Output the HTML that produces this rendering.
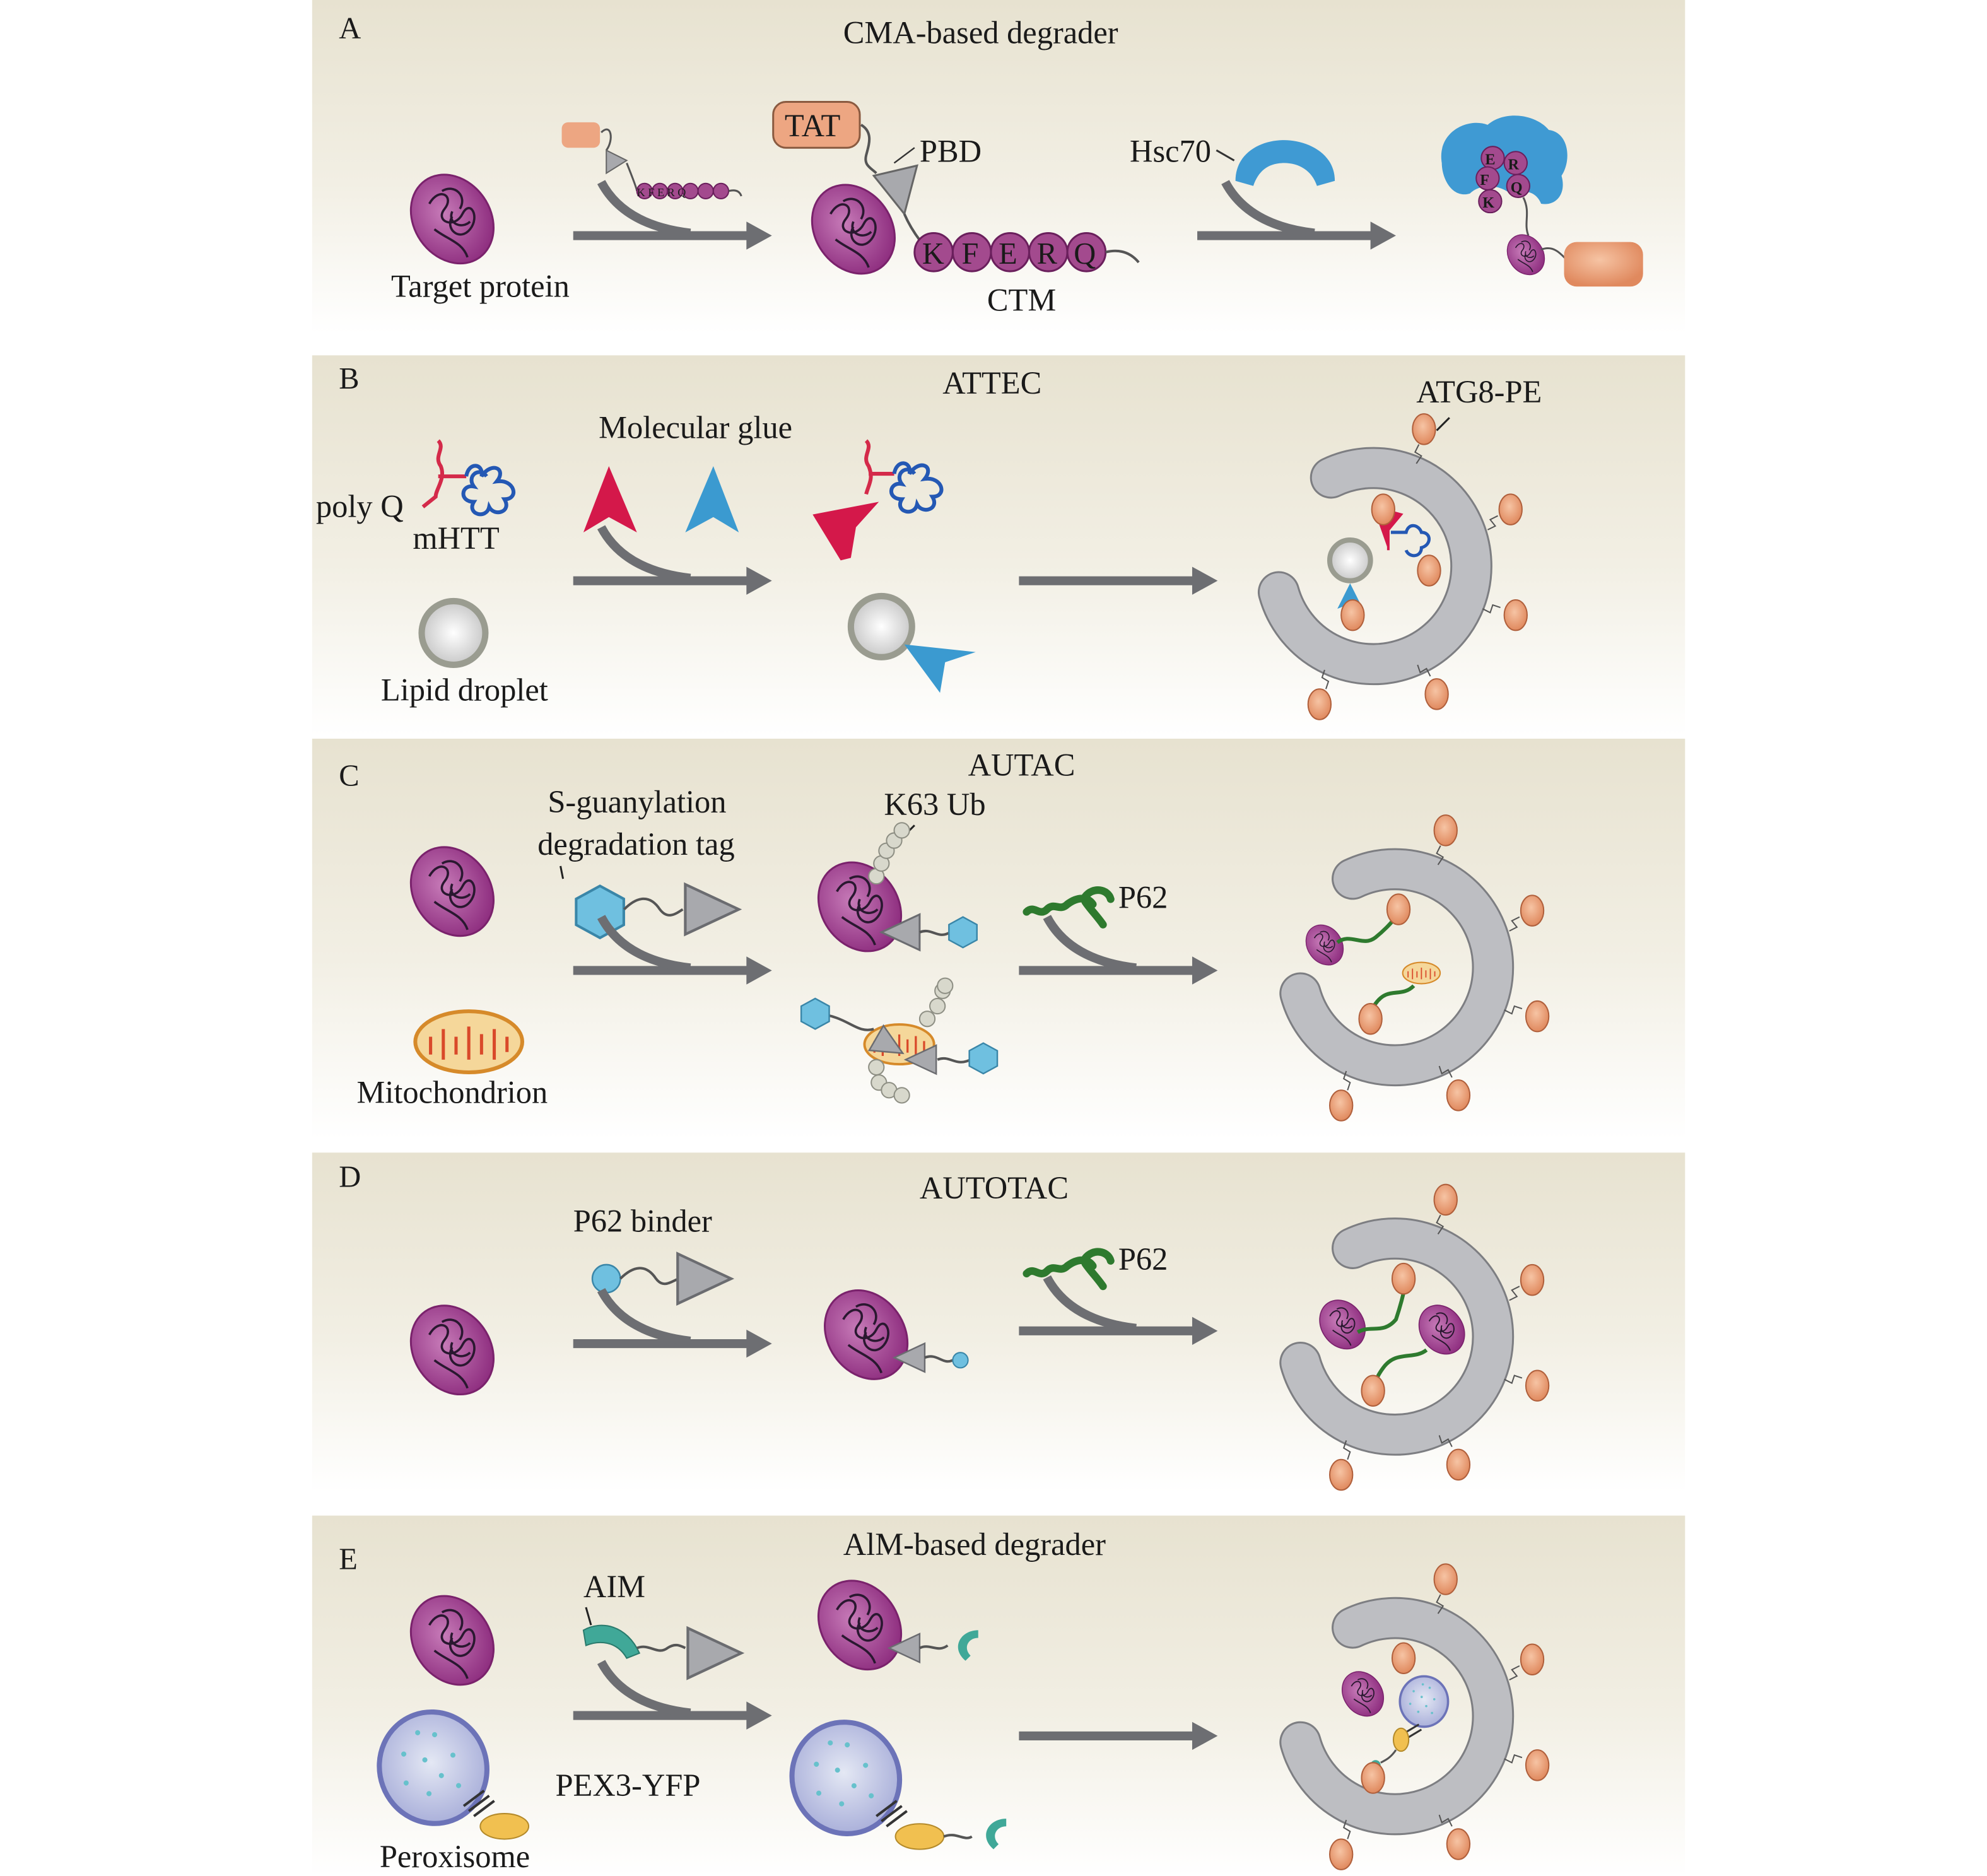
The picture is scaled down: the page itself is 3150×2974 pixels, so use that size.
<!DOCTYPE html>
<html><head><meta charset="utf-8"><style>
html,body{margin:0;padding:0;background:#fff}
svg{display:block}
text{font-family:"Liberation Serif",serif;fill:#1a1a1a}
</style></head><body>
<svg width="3150" height="2974" viewBox="0 0 1560 1473" xmlns="http://www.w3.org/2000/svg">
<defs>
<linearGradient id="bg" x1="0" y1="0" x2="0" y2="1">
<stop offset="0" stop-color="#e7e2d0"/><stop offset="0.55" stop-color="#f2efe4"/><stop offset="1" stop-color="#ffffff"/></linearGradient>
<radialGradient id="pg" cx="0.45" cy="0.4" r="0.6"><stop offset="0" stop-color="#c77bb8"/><stop offset="1" stop-color="#8f2f80"/></radialGradient>
<radialGradient id="og" cx="0.45" cy="0.4" r="0.6"><stop offset="0" stop-color="#f6c4a4"/><stop offset="1" stop-color="#e0895e"/></radialGradient>
<radialGradient id="lg" cx="0.5" cy="0.5" r="0.5"><stop offset="0" stop-color="#ffffff"/><stop offset="1" stop-color="#c8c8c8"/></radialGradient>
<radialGradient id="xg" cx="0.5" cy="0.45" r="0.55"><stop offset="0" stop-color="#e4e8f4"/><stop offset="1" stop-color="#aab0da"/></radialGradient>
<g id="prot">
<ellipse rx="30" ry="37" transform="rotate(-35)" fill="url(#pg)" stroke="#7a226c" stroke-width="1.5"/>
<path d="M-18,-12 c8,-14 20,-6 12,4 c-8,10 8,16 14,4 c6,-12 14,2 6,12 c-8,10 -20,0 -14,-10 M-8,-22 c10,-6 20,4 14,14 M-14,8 c10,8 22,10 26,22 M0,-6 c-4,10 8,14 14,8" fill="none" stroke="#2a1830" stroke-width="1.8"/>
</g>
<g id="arr">
<line x1="0" y1="0" x2="140" y2="0" stroke="#6d6e72" stroke-width="7"/>
<polygon points="136,-11 156,0 136,11" fill="#6d6e72"/>
</g>
<g id="arrc">
<use href="#arr"/>
<path d="M22,-42 Q40,-8 92,-2" fill="none" stroke="#6d6e72" stroke-width="7"/>
</g>
<g id="tri"><polygon points="0,-14 30,0 0,14" fill="#a8a9ad" stroke="#6b6c70" stroke-width="1.5"/></g>
<g id="ob"><ellipse rx="9" ry="12" fill="url(#og)" stroke="#b0603c" stroke-width="1"/></g>
<g id="phag">
<path d="M-33,-70 A77,77 0 1 1 -74,20" fill="none" stroke="#7d7e82" stroke-width="33" stroke-linecap="round"/>
<path d="M-33,-70 A77,77 0 1 1 -74,20" fill="none" stroke="#bdbec2" stroke-width="30" stroke-linecap="round"/>
<use href="#ob" x="40" y="-108"/><use href="#ob" x="108" y="-45"/><use href="#ob" x="112" y="38"/>
<use href="#ob" x="50" y="100"/><use href="#ob" x="-42" y="108"/>
<path d="M36,-96 l-3,6 5,3 -4,6 M98,-40 l-6,3 4,5 -6,3 M100,32 l-6,-2 -2,6 -6,-3 M45,86 l-3,-6 -5,3 -2,-6 M-37,96 l2,-6 -5,-3 2,-6" fill="none" stroke="#555" stroke-width="1"/>
</g>
<g id="mito">
<ellipse rx="42" ry="24" fill="#f5d79a" stroke="#d68a2a" stroke-width="3"/>
<path d="M-30,10 v-14 M-20,14 v-24 M-10,10 v-14 M0,14 v-26 M10,10 v-16 M20,14 v-24 M30,8 v-12" stroke="#d9492a" stroke-width="2.5"/>
</g>
<g id="hex"><polygon points="-11,-6 0,-12 11,-6 11,6 0,12 -11,6" fill="#6fc0e0" stroke="#3a86a8" stroke-width="1.2"/></g>
<g id="p62"><path d="M-36,4 c6,-6 10,4 16,-2 c6,-6 10,2 16,-4 c8,-6 16,-6 20,0 M10,-8 c6,-8 18,-6 20,2 M10,-4 c4,6 10,12 14,18" fill="none" stroke="#2e7a2e" stroke-width="6" stroke-linecap="round"/></g>
<g id="pex">
<ellipse rx="42" ry="44" fill="url(#xg)" stroke="#6c73b8" stroke-width="4"/>
<g fill="#67c1cc"><circle cx="-18" cy="-18" r="2"/><circle cx="-4" cy="-8" r="2"/><circle cx="10" cy="-24" r="2"/><circle cx="-24" cy="4" r="2"/><circle cx="4" cy="8" r="2"/><circle cx="18" cy="-4" r="2"/><circle cx="-10" cy="18" r="2"/><circle cx="14" cy="20" r="2"/><circle cx="-2" cy="-30" r="2"/></g>
</g>
</defs>

<rect x="245" y="0" width="1078" height="262" fill="url(#bg)"/>
<rect x="245" y="279" width="1078" height="299" fill="url(#bg)"/>
<rect x="245" y="580" width="1078" height="315" fill="url(#bg)"/>
<rect x="245" y="905" width="1078" height="267" fill="url(#bg)"/>
<rect x="245" y="1190" width="1078" height="283" fill="url(#bg)"/>

<!-- Panel A -->
<text x="266" y="30" font-size="24">A</text>
<text x="662" y="34" font-size="25">CMA-based degrader</text>
<use href="#prot" x="355" y="172"/>
<text x="307" y="233" font-size="25">Target protein</text>
<rect x="441" y="96" width="30" height="20" rx="5" fill="#eda682"/>
<path d="M472,104 c8,-8 10,6 4,14" fill="none" stroke="#555" stroke-width="1.5"/>
<polygon points="476,118 492,126 476,136" fill="#a8a9ad" stroke="#666"/>
<path d="M492,128 Q500,148 500,150" fill="none" stroke="#555" stroke-width="1.5"/>
<g fill="#a34a8e" stroke="#6a1f5c"><circle cx="506" cy="150" r="6"/><circle cx="518" cy="150" r="6"/><circle cx="530" cy="150" r="6"/><circle cx="542" cy="150" r="6"/><circle cx="554" cy="150" r="6"/><circle cx="566" cy="150" r="6"/></g>
<text x="500" y="154" font-size="9" fill="#222">K F E R Q</text>
<path d="M572,150 q8,-2 10,4" fill="none" stroke="#555" stroke-width="1.5"/>
<use href="#arrc" x="450" y="185"/>
<use href="#prot" x="670" y="180"/>
<rect x="607" y="80" width="68" height="36" rx="10" fill="#eda682" stroke="#8a5a40" stroke-width="1.5"/>
<text x="616" y="107" font-size="25">TAT</text>
<path d="M676,98 c10,6 6,16 4,24 c-2,8 4,10 8,14" fill="none" stroke="#555" stroke-width="2"/>
<polygon points="686,138 720,130 710,168" fill="#a8a9ad" stroke="#666" stroke-width="1.5"/>
<path d="M702,128 l16,-12" stroke="#333" stroke-width="1.2"/>
<text x="722" y="127" font-size="25">PBD</text>
<path d="M710,168 q6,14 18,28" fill="none" stroke="#555" stroke-width="2"/>
<g fill="#a34a8e" stroke="#6a1f5c" stroke-width="1.5"><circle cx="733" cy="198" r="15"/><circle cx="763" cy="198" r="15"/><circle cx="793" cy="198" r="15"/><circle cx="823" cy="198" r="15"/><circle cx="853" cy="198" r="15"/></g>
<text x="724" y="207" font-size="24">K</text><text x="755" y="207" font-size="24">F</text><text x="784" y="207" font-size="24">E</text><text x="814" y="207" font-size="24">R</text><text x="843" y="207" font-size="24">Q</text>
<path d="M868,198 q16,-4 26,8" fill="none" stroke="#555" stroke-width="2"/>
<text x="775" y="244" font-size="25">CTM</text>
<text x="887" y="127" font-size="25">Hsc70</text>
<path d="M955,118 l14,8" stroke="#333" stroke-width="1.5"/>
<path d="M970,142 c0,-22 20,-32 38,-32 c18,0 40,10 40,32 l-14,4 c-4,-12 -14,-18 -26,-18 c-12,0 -20,6 -24,18z" fill="#3f9ad3"/>
<use href="#arrc" x="940" y="185"/>
<path d="M1132,128 c-4,-24 20,-36 36,-30 c14,-12 38,-8 48,4 c16,2 18,24 10,36 c4,14 -4,24 -16,22 c-4,-10 -14,-12 -22,-6 c-10,-10 -26,-10 -34,-2 c-14,4 -22,-12 -22,-24z" fill="#3f9ad3"/>
<g fill="#a34a8e" stroke="#6a1f5c"><circle cx="1172" cy="124" r="9"/><circle cx="1190" cy="128" r="9"/><circle cx="1168" cy="140" r="9"/><circle cx="1192" cy="146" r="9"/><circle cx="1170" cy="158" r="9"/></g>
<text x="1166" y="129" font-size="12" font-weight="bold">E</text><text x="1184" y="133" font-size="12" font-weight="bold">R</text><text x="1162" y="145" font-size="12" font-weight="bold">F</text><text x="1186" y="151" font-size="12" font-weight="bold">Q</text><text x="1164" y="163" font-size="12" font-weight="bold">K</text>
<path d="M1196,155 c6,12 0,20 4,30" fill="none" stroke="#555" stroke-width="1.5"/>
<g transform="translate(1198,200) scale(0.45)"><use href="#prot"/></g>
<path d="M1210,196 c10,-4 16,4 20,8" fill="none" stroke="#555" stroke-width="1.5"/>
<rect x="1228" y="190" width="62" height="35" rx="10" fill="url(#og)"/>

<!-- Panel B -->
<text x="266" y="305" font-size="24">B</text>
<text x="740" y="309" font-size="25">ATTEC</text>
<text x="1112" y="316" font-size="25">ATG8-PE</text>
<path d="M1138,328 l-10,10" stroke="#222" stroke-width="1.5"/>
<text x="470" y="344" font-size="25">Molecular glue</text>
<path d="M344,346 c6,6 -4,12 2,20 c4,10 -4,18 -4,24 l-10,8" fill="none" stroke="#d42a4a" stroke-width="3"/>
<path d="M344,374 l22,0" stroke="#d42a4a" stroke-width="3"/>
<path d="M366,374 c2,-12 14,-10 12,0 c8,-12 20,-6 12,4 c14,-2 18,14 6,14 c6,10 -8,14 -12,6 c-2,10 -18,6 -12,-4 c-12,0 -10,-14 0,-12 c-6,-8 4,-16 10,-8" fill="none" stroke="#2458b4" stroke-width="3"/>
<text x="248" y="406" font-size="25">poly Q</text>
<text x="324" y="431" font-size="25">mHTT</text>
<circle cx="356" cy="497" r="25" fill="url(#lg)" stroke="#9a9c90" stroke-width="5"/>
<text x="299" y="550" font-size="25">Lipid droplet</text>
<path d="M478,366 L500,418 L478,406 L458,418 Z" fill="#d4184a"/>
<path d="M560,366 L580,418 L560,406 L538,418 Z" fill="#3b9ad0"/>
<use href="#arrc" x="450" y="456"/>
<path d="M638,404 L690,394 L672,414 L668,438 L660,440 Z" fill="#d4184a"/>
<path d="M680,346 c6,6 -4,12 2,20 c4,10 0,14 -2,22" fill="none" stroke="#d42a4a" stroke-width="3"/>
<path d="M682,372 l20,0" stroke="#d42a4a" stroke-width="3"/>
<path d="M702,372 c2,-12 14,-10 12,0 c8,-12 20,-6 12,4 c14,-2 18,14 6,14 c6,10 -8,14 -12,6 c-2,10 -18,6 -12,-4 c-12,0 -10,-14 0,-12 c-6,-8 4,-16 10,-8" fill="none" stroke="#2458b4" stroke-width="3"/>
<circle cx="692" cy="492" r="24" fill="url(#lg)" stroke="#9a9c90" stroke-width="5"/>
<path d="M710,506 L766,512 L742,520 L738,544 Z" fill="#3b9ad0"/>
<use href="#arr" x="800" y="456"/>
<g transform="translate(1078,445)"><use href="#phag"/></g>
<circle cx="1060" cy="440" r="16" fill="url(#lg)" stroke="#9a9c90" stroke-width="4"/>
<path d="M1060,458 L1070,478 L1060,474 L1050,478 Z" fill="#3b9ad0"/>
<use href="#ob" x="1062" y="483"/>
<path d="M1078,398 L1100,404 L1090,416 L1090,432" fill="#d4184a" stroke="#d4184a" stroke-width="2"/>
<path d="M1092,418 l12,0 c2,-8 10,-6 12,0 c8,0 8,10 0,12 c0,8 -10,8 -12,2" fill="none" stroke="#2458b4" stroke-width="2.5"/>
<use href="#ob" x="1086" y="400"/><use href="#ob" x="1122" y="448"/>

<!-- Panel C -->
<text x="266" y="617" font-size="24">C</text>
<text x="760" y="609" font-size="25">AUTAC</text>
<text x="430" y="638" font-size="25">S-guanylation</text>
<text x="422" y="671" font-size="25">degradation tag</text>
<path d="M440,680 l2,10" stroke="#222" stroke-width="1.5"/>
<text x="694" y="640" font-size="25">K63 Ub</text>
<path d="M718,648 l-10,10" stroke="#222" stroke-width="1.5"/>
<use href="#prot" x="355" y="700"/>
<g transform="translate(471,716) scale(1.7)"><use href="#hex"/></g>
<path d="M490,714 c10,-10 20,-12 28,0 c6,8 12,4 18,0" fill="none" stroke="#555" stroke-width="2"/>
<g transform="translate(538,714) scale(1.4)"><use href="#tri"/></g>
<use href="#arrc" x="450" y="762"/>
<use href="#mito" x="368" y="818"/>
<text x="280" y="866" font-size="25">Mitochondrion</text>
<use href="#prot" x="675" y="712"/>
<g fill="#d8d8cc" stroke="#8e8f84"><circle cx="688" cy="688" r="6"/><circle cx="692" cy="678" r="6"/><circle cx="696" cy="668" r="6"/><circle cx="702" cy="660" r="6"/><circle cx="708" cy="652" r="6"/></g>
<g transform="translate(722,732) rotate(180)"><use href="#tri"/></g>
<path d="M722,732 c10,-4 14,6 24,0" fill="none" stroke="#555" stroke-width="2"/>
<use href="#hex" x="756" y="732"/>
<g transform="translate(706,820) scale(0.65)"><use href="#mito"/></g>
<g transform="translate(688,815) rotate(30)"><use href="#tri" transform="scale(0.8)"/></g>
<path d="M686,808 c-14,4 -20,-10 -44,-12" fill="none" stroke="#555" stroke-width="2"/>
<use href="#hex" x="640" y="796"/>
<g transform="translate(735,832) rotate(180)"><use href="#tri" transform="scale(0.8)"/></g>
<path d="M736,832 c10,-4 14,6 26,0" fill="none" stroke="#555" stroke-width="2"/>
<use href="#hex" x="772" y="831"/>
<g fill="#d8d8cc" stroke="#8e8f84"><circle cx="728" cy="800" r="6"/><circle cx="736" cy="790" r="6"/><circle cx="740" cy="778" r="6"/><circle cx="742" cy="774" r="6"/><circle cx="688" cy="838" r="6"/><circle cx="690" cy="850" r="6"/><circle cx="698" cy="856" r="6"/><circle cx="708" cy="860" r="6"/></g>
<use href="#p62" x="842" y="712"/>
<text x="878" y="713" font-size="25">P62</text>
<use href="#arrc" x="800" y="762"/>
<g transform="translate(1095,760)"><use href="#phag"/></g>
<g transform="translate(1040,742) scale(0.45)"><use href="#prot"/></g>
<path d="M1050,740 c10,-8 20,4 30,-4 c10,-8 14,-14 20,-20" fill="none" stroke="#2e7a2e" stroke-width="3"/>
<use href="#ob" x="1098" y="714"/>
<g transform="translate(1116,764) scale(0.35)"><use href="#mito"/></g>
<path d="M1110,774 c-10,10 -20,0 -30,14 c-6,8 -4,10 -6,16" fill="none" stroke="#2e7a2e" stroke-width="3"/>
<use href="#ob" x="1076" y="800"/>

<!-- Panel D -->
<text x="266" y="932" font-size="24">D</text>
<text x="722" y="941" font-size="25">AUTOTAC</text>
<text x="450" y="967" font-size="25">P62 binder</text>
<circle cx="476" cy="1004" r="11" fill="#6fc0e0" stroke="#3a86a8" stroke-width="1.2"/>
<path d="M487,1004 c10,-10 20,-12 28,0 c6,8 12,2 18,0" fill="none" stroke="#555" stroke-width="2"/>
<g transform="translate(532,1004) scale(1.4)"><use href="#tri"/></g>
<use href="#prot" x="355" y="1060"/>
<use href="#arrc" x="450" y="1055"/>
<use href="#prot" x="680" y="1048"/>
<g transform="translate(726,1066) rotate(180)"><use href="#tri" transform="scale(0.8)"/></g>
<path d="M726,1066 c10,-4 14,6 22,2" fill="none" stroke="#555" stroke-width="2"/>
<circle cx="754" cy="1068" r="6" fill="#6fc0e0" stroke="#3a86a8"/>
<use href="#p62" x="842" y="996"/>
<text x="878" y="997" font-size="25">P62</text>
<use href="#arrc" x="800" y="1045"/>
<g transform="translate(1095,1050)"><use href="#phag"/></g>
<g transform="translate(1054,1040) scale(0.55)"><use href="#prot"/></g>
<g transform="translate(1132,1044) scale(0.55)"><use href="#prot"/></g>
<path d="M1066,1046 c10,-6 20,2 30,-10 c4,-12 6,-20 8,-30" fill="none" stroke="#2e7a2e" stroke-width="3"/>
<use href="#ob" x="1102" y="1004"/>
<path d="M1120,1060 c-10,8 -24,0 -34,14 c-6,8 -6,12 -8,16" fill="none" stroke="#2e7a2e" stroke-width="3"/>
<use href="#ob" x="1078" y="1092"/>

<!-- Panel E -->
<text x="266" y="1232" font-size="24">E</text>
<text x="662" y="1221" font-size="25">AlM-based degrader</text>
<text x="458" y="1254" font-size="25">AIM</text>
<path d="M460,1262 l4,14" stroke="#222" stroke-width="1.5"/>
<path d="M458,1280 c14,-8 34,-4 44,18 l-10,4 c-8,-14 -22,-14 -32,-10z" fill="#40a898" stroke="#2a7a6c"/>
<path d="M500,1294 c10,-4 16,6 24,0 c6,-4 10,-2 14,0" fill="none" stroke="#555" stroke-width="2"/>
<g transform="translate(540,1298) scale(1.4)"><use href="#tri"/></g>
<use href="#prot" x="355" y="1288"/>
<use href="#arrc" x="450" y="1347"/>
<g transform="translate(340,1388) rotate(-20)"><use href="#pex"/></g>
<path d="M364,1418 l16,-12 M368,1422 l16,-12 M372,1426 l16,-12" stroke="#333" stroke-width="2"/>
<ellipse cx="396" cy="1434" rx="19" ry="10" fill="#f1c050" stroke="#b48a2a"/>
<text x="298" y="1466" font-size="25">Peroxisome</text>
<text x="436" y="1410" font-size="25">PEX3-YFP</text>
<use href="#prot" x="675" y="1276"/>
<g transform="translate(722,1294) rotate(180)"><use href="#tri" transform="scale(0.8)"/></g>
<path d="M722,1294 c8,-4 14,4 22,-2" fill="none" stroke="#555" stroke-width="2"/>
<path d="M768,1280 c-14,0 -22,14 -10,24 l4,-4 c-6,-6 -2,-14 6,-14z" fill="#40a898"/>
<g transform="translate(664,1396) rotate(-20)"><use href="#pex"/></g>
<path d="M688,1426 l16,-12 M692,1430 l16,-12 M696,1434 l16,-12" stroke="#333" stroke-width="2"/>
<ellipse cx="722" cy="1442" rx="19" ry="10" fill="#f1c050" stroke="#b48a2a"/>
<path d="M741,1442 c10,-4 16,4 22,0" fill="none" stroke="#555" stroke-width="2"/>
<path d="M790,1428 c-14,0 -22,14 -10,24 l4,-4 c-6,-6 -2,-14 6,-14z" fill="#40a898"/>
<use href="#arr" x="800" y="1363"/>
<g transform="translate(1095,1348)"><use href="#phag"/></g>
<g transform="translate(1070,1330) scale(0.5)"><use href="#prot"/></g>
<use href="#ob" x="1102" y="1302"/>
<g transform="translate(1118,1336) scale(0.45)"><use href="#pex"/></g>
<path d="M1104,1360 l10,-6 M1106,1364 l10,-6" stroke="#333" stroke-width="1.5"/>
<ellipse cx="1100" cy="1366" rx="6" ry="9" fill="#f1c050" stroke="#b48a2a"/>
<path d="M1096,1374 c-4,6 -8,8 -12,10" fill="none" stroke="#555" stroke-width="1.5"/>
<circle cx="1080" cy="1386" r="4" fill="#40a898"/>
<use href="#ob" x="1078" y="1396"/>
</svg>
</body></html>
